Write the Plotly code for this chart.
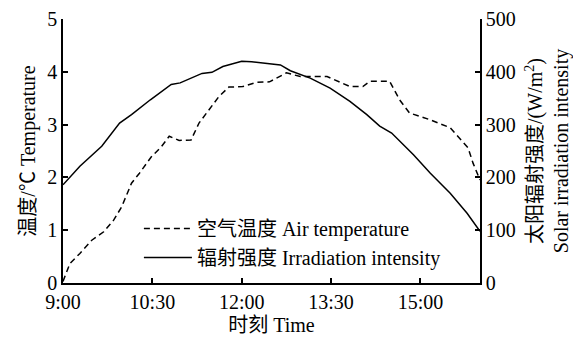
import plotly.graph_objects as go

# Time in minutes after 9:00
temp_time = [0, 7, 17, 29, 41, 51, 59, 69, 77, 89, 99, 107, 117, 129, 137, 147, 157, 167, 181,
             195, 208, 225, 239, 266, 289, 302, 309, 329, 339, 349, 370, 390, 408, 413, 418, 420]
air_temp = [0.03, 0.37, 0.56, 0.81, 0.97, 1.19, 1.44, 1.89, 2.08, 2.39, 2.58, 2.78, 2.70, 2.71, 3.03,
            3.28, 3.53, 3.71, 3.72, 3.80, 3.81, 3.98, 3.91, 3.91, 3.72, 3.72, 3.82, 3.82, 3.47, 3.22,
            3.09, 2.94, 2.56, 2.27, 2.02, 1.95]

irr_time = [0, 17, 39, 57, 69, 88, 109, 118, 140, 150, 161, 180, 190, 202, 219, 229, 249, 269, 289,
            306, 319, 331, 353, 370, 390, 407, 420]
irradiation = [186, 221, 259, 303, 319, 347, 376, 379, 397, 399, 410, 420, 419, 417, 413, 402, 388,
               369, 344, 319, 297, 284, 243, 208, 170, 132, 98]

tick_vals = [0, 90, 180, 270, 360]
tick_text = ["9:00", "10:30", "12:00", "13:30", "15:00"]

FONT = "'Liberation Serif', 'Noto Sans CJK SC', serif"

fig = go.Figure()
fig.add_trace(go.Scatter(
    x=temp_time, y=air_temp, mode="lines", name="空气温度 Air temperature",
    legendgroup="a",
    line=dict(color="black", width=1.5, dash="6px,4px"), yaxis="y"))
fig.add_trace(go.Scatter(
    x=irr_time, y=irradiation, mode="lines", name="辐射强度 Irradiation intensity",
    legendgroup="b",
    line=dict(color="black", width=1.5), yaxis="y2"))

axis_common = dict(showline=True, linecolor="black", linewidth=1.5, ticks="inside", ticklen=5,
                   tickcolor="black", tickwidth=1.5, showgrid=False, zeroline=False,
                   automargin=False,
                   tickfont=dict(family=FONT, size=20, color="black"))

fig.update_layout(
    width=573, height=338,
    margin=dict(l=63, r=93, t=19, b=55),
    plot_bgcolor="white", paper_bgcolor="white",
    font=dict(family=FONT, size=20, color="black"),
    showlegend=True,
    legend=dict(x=0.182, y=0.28, xanchor="left", yanchor="top", bgcolor="rgba(0,0,0,0)",
                font=dict(family=FONT, size=20, color="black"),
                traceorder="grouped", tracegroupgap=0,
                itemwidth=48),
    xaxis=dict(range=[0, 420], tickvals=tick_vals, ticktext=tick_text,
               title=dict(text="时刻 Time", standoff=6, font=dict(family=FONT, size=20)),
               **axis_common),
    yaxis=dict(range=[0, 5], dtick=1,
               title=dict(text="温度/℃ Temperature", standoff=6, font=dict(family=FONT, size=20)),
               **axis_common),
    yaxis2=dict(range=[0, 500], dtick=100, overlaying="y", side="right",
                title=dict(text="太阳辐射强度/(W/m<sup>2</sup>)<br>Solar irradiation intensity",
                           standoff=16, font=dict(family=FONT, size=20)),
                **axis_common),
)

fig.write_html("out.html")
